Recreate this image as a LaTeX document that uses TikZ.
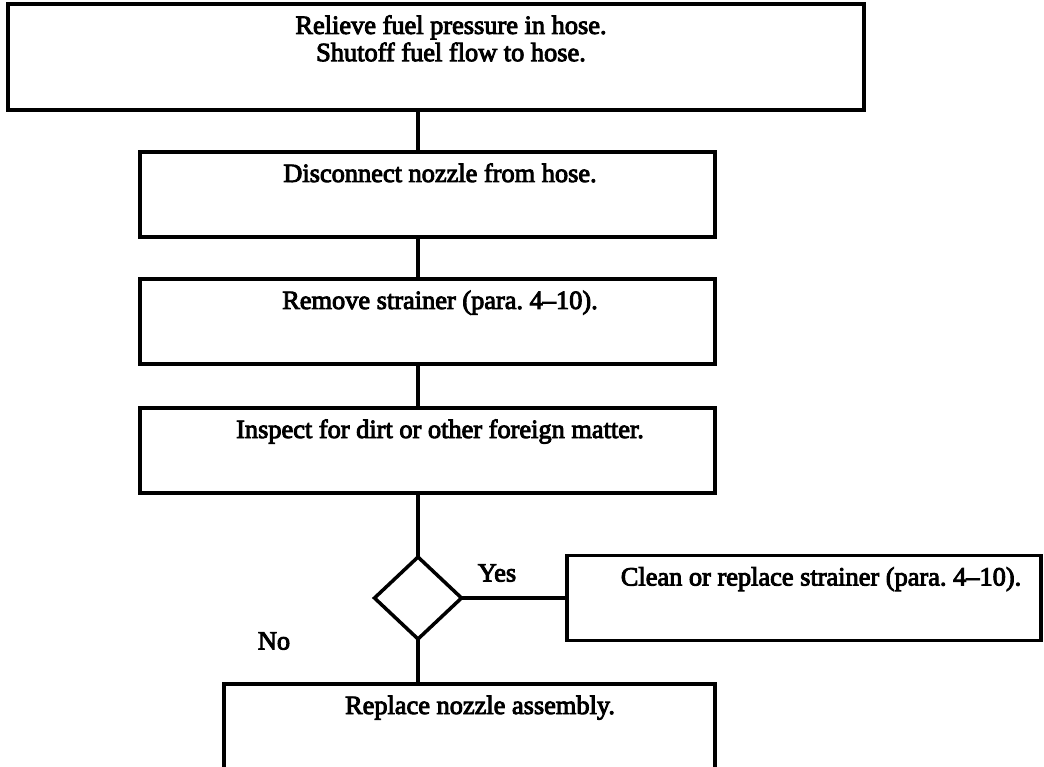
\documentclass[tikz,border=0pt]{standalone}
\usepackage{fontspec}
\setmainfont{Liberation Serif}
\newfontfamily\scanfont{Liberation Serif}[Ligatures=TeX, FakeBold=3.5]
\usetikzlibrary{positioning, shapes.geometric}

\begin{document}
\begin{tikzpicture}[
    node distance=0.84cm,
    stepbox/.style={draw, line width=2pt, minimum height=1.70cm, inner sep=0pt, outer sep=0pt},
    steptext/.style={font=\fontsize{15pt}{15.5pt}\selectfont\scanfont, inner sep=0pt, anchor=base},
    decision/.style={draw, diamond, line width=2pt, minimum width=1.74cm, minimum height=1.64cm, inner sep=0pt, outer sep=0pt},
    answer/.style={font=\fontsize{15pt}{15.5pt}\selectfont\scanfont, inner sep=0pt},
    link/.style={line width=2pt},
]

% === FRAME (1044 x 767 px, 1px = 0.02cm) ===
\path[use as bounding box, fill=white] (0,0) rectangle (20.88,-15.34);

% === STEPS ===
\node[stepbox, minimum width=17.12cm, minimum height=2.12cm] (relieve) at (8.72,-1.14) {};
\node[steptext, align=center, anchor=north] (relieve_txt) at ([xshift=0.30cm, yshift=-0.22cm]relieve.north)
    {Relieve fuel pressure in hose.\\ Shutoff fuel flow to hose.};

\node[stepbox, minimum width=11.5cm, below=of relieve, xshift=-0.17cm] (disconnect) {};
\node[steptext] (disconnect_txt) at ([xshift=0.25cm, yshift=-0.60cm]disconnect.north) {Disconnect nozzle from hose.};

\node[stepbox, minimum width=11.5cm, below=of disconnect] (strainer) {};
\node[steptext] (strainer_txt) at ([xshift=0.25cm, yshift=-0.60cm]strainer.north) {Remove strainer (para.\ 4--10).};

\node[stepbox, minimum width=11.5cm, below=0.88cm of strainer] (inspect) {};
\node[steptext] (inspect_txt) at ([xshift=0.25cm, yshift=-0.60cm]inspect.north) {Inspect for dirt or other foreign matter.};

% === DECISION ===
\node[decision, below=1.28cm of inspect, xshift=-0.19cm] (check) {};

\node[stepbox, minimum width=9.48cm, right=2.11cm of check] (clean) {};
\node[steptext] (clean_txt) at ([xshift=0.34cm, yshift=-0.60cm]clean.north) {Clean or replace strainer (para.\ 4--10).};

\node[stepbox, minimum width=9.82cm, minimum height=1.78cm, below=0.90cm of check, xshift=1.03cm] (replace) {};
\node[steptext] (replace_txt) at ([xshift=0.21cm, yshift=-0.60cm]replace.north) {Replace nozzle assembly.};

% Yes / No
\node[answer] (yes) at ([xshift=0.71cm, yshift=0.50cm]check.east) {Yes};
\node[answer] (no) at ([xshift=-2.01cm, yshift=-0.86cm]check.west) {No};

% === CONNECTORS ===
\draw[link] (relieve.south -| check) -- (disconnect.north -| check);
\draw[link] (disconnect.south -| check) -- (strainer.north -| check);
\draw[link] (strainer.south -| check) -- (inspect.north -| check);
\draw[link] (inspect.south -| check) -- (check.north);
\draw[link] (check.east) -- (clean.west);
\draw[link] (check.south) -- (replace.north -| check);

\end{tikzpicture}
\end{document}
